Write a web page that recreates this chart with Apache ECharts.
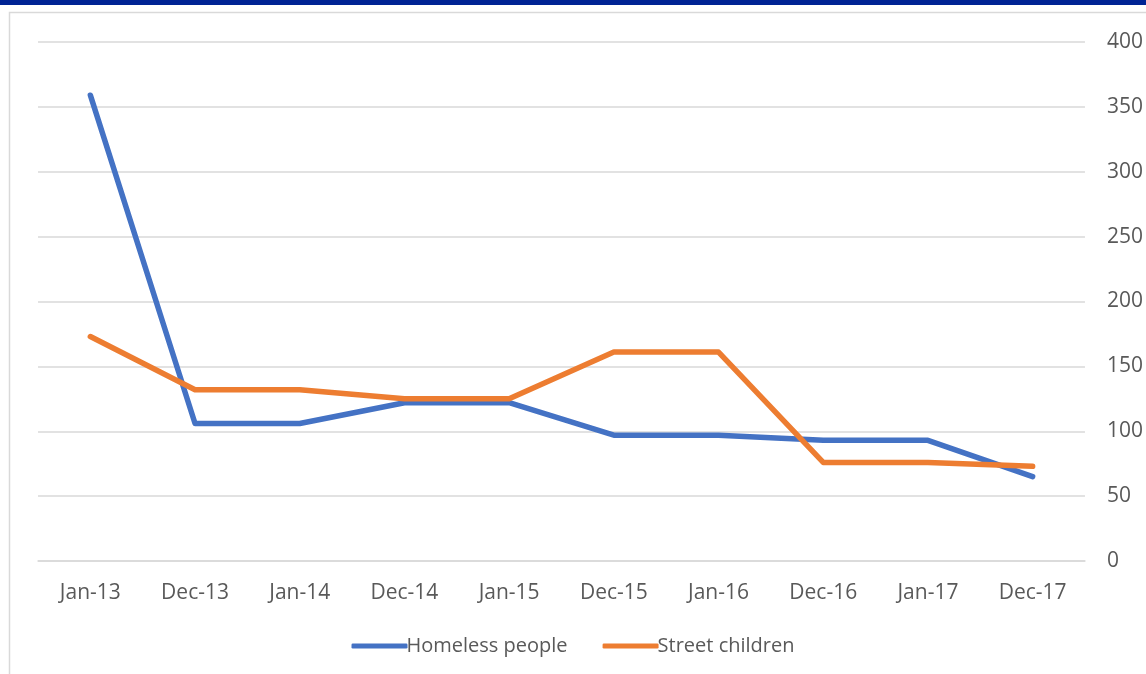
<!DOCTYPE html>
<html>
<head>
<meta charset="utf-8">
<script src="https://cdn.jsdelivr.net/npm/echarts@6/dist/echarts.min.js"></script>
<style>
html,body{margin:0;padding:0;background:#fff;}
#chart{width:1146px;height:674px;}
</style>
</head>
<body>
<div id="chart"></div>
<script>
var categories = ['Jan-13','Dec-13','Jan-14','Dec-14','Jan-15','Dec-15','Jan-16','Dec-16','Jan-17','Dec-17'];
var homelessPeople = [359,106,106,122,122,97,97,93,93,65];
var streetChildren = [173,132,132,125,125,161,161,76,76,73];
var yTicks = [0,50,100,150,200,250,300,350,400];

var chart = echarts.init(document.getElementById('chart'), null, {renderer:'canvas'});
var font = '"Open Sans", sans-serif';
chart.setOption({
  animation:false,
  backgroundColor:'#ffffff',
  graphic:[
    {type:'rect', shape:{x:0,y:0,width:1146,height:5}, style:{fill:'#002394'}, z:10},
    {type:'rect', shape:{x:9.5,y:12.5,width:1200,height:700}, style:{fill:'none',stroke:'#d9d9d9',lineWidth:1.5}, z:0}
  ],
  grid:{left:38,right:61,top:42,bottom:113},
  legend:{
    bottom:13,
    left:'center',
    itemWidth:56,
    itemHeight:5,
    itemGap:35,
    icon:'roundRect',
    textStyle:{fontFamily:font,fontSize:20,color:'#595959',padding:[0,0,0,-6]},
    data:['Homeless people','Street children']
  },
  xAxis:{
    type:'category',
    data:categories,
    boundaryGap:true,
    axisLine:{show:true,lineStyle:{color:'#d9d9d9',width:1.5}},
    axisTick:{show:false},
    axisLabel:{fontFamily:font,fontSize:21,color:'#595959',margin:22}
  },
  yAxis:{
    type:'value',
    position:'right',
    min:0,max:400,interval:50,
    axisLine:{show:false},
    axisTick:{show:false},
    splitLine:{lineStyle:{color:'#d9d9d9',width:1.5}},
    axisLabel:{fontFamily:font,fontSize:21,color:'#595959',margin:22,
      formatter:function(v){return yTicks.indexOf(v)>=0?String(v):'';}}
  },
  series:[
    {name:'Homeless people',type:'line',data:homelessPeople,symbol:'none',
     lineStyle:{color:'#4472C4',width:5.5,cap:'round',join:'round'},itemStyle:{color:'#4472C4'}},
    {name:'Street children',type:'line',data:streetChildren,symbol:'none',
     lineStyle:{color:'#ED7D31',width:5.5,cap:'round',join:'round'},itemStyle:{color:'#ED7D31'}}
  ]
});
</script>
</body>
</html>
